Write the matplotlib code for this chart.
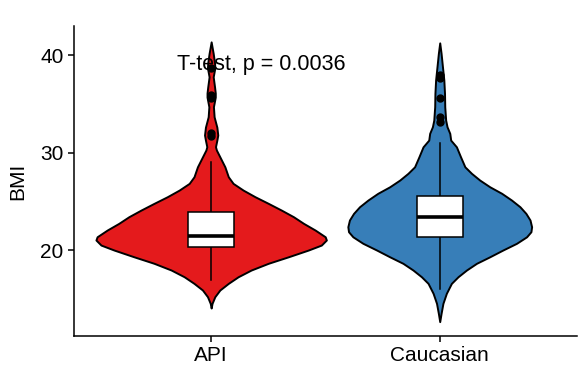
import matplotlib
matplotlib.use("Agg")
import matplotlib.pyplot as plt
import numpy as np

plt.rcParams['font.family'] = ['Liberation Sans', 'DejaVu Sans']

# ---- data ----
groups = ["API", "Caucasian"]
colors = ["#E41A1C", "#377EB8"]

# violin outline: BMI level and half width (in category-axis units)
api_profile_bmi = [14.05, 14.53, 15.21, 15.90, 16.58, 17.26, 17.95, 18.64, 19.31, 20.0,
                   20.51, 21.03, 21.36, 22.05, 22.74, 23.42, 24.10, 24.79, 25.47, 26.15,
                   26.84, 27.52, 28.54, 30.26, 30.6, 31.28, 31.8, 32.6, 33.67, 34.7,
                   35.69, 36.1, 36.72, 37.77, 38.67, 39.18, 40.17, 41.36]
api_profile_hw = [0.0, 0.004, 0.016, 0.038, 0.075, 0.118, 0.175, 0.250, 0.338, 0.425,
                  0.482, 0.504, 0.499, 0.455, 0.404, 0.360, 0.307, 0.250, 0.192, 0.140,
                  0.096, 0.075, 0.060, 0.023, 0.019, 0.025, 0.029, 0.025, 0.013, 0.010,
                  0.018, 0.018, 0.015, 0.009, 0.016, 0.015, 0.009, 0.0]

cau_profile_bmi = [12.65, 13.51, 14.53, 15.56, 16.58, 17.26, 17.95, 18.64, 19.31, 20.0,
                   20.69, 21.36, 21.88, 22.39, 23.08, 23.76, 24.44, 25.13, 25.82, 26.49,
                   27.18, 27.87, 28.54, 29.57, 30.59, 31.28, 31.97, 32.65, 33.33, 34.7,
                   36.07, 37.44, 38.8, 40.17, 41.26]
cau_profile_hw = [0.0, 0.006, 0.014, 0.029, 0.051, 0.080, 0.117, 0.161, 0.219, 0.276,
                  0.336, 0.380, 0.399, 0.402, 0.395, 0.377, 0.351, 0.314, 0.271, 0.219,
                  0.175, 0.139, 0.110, 0.091, 0.073, 0.048, 0.044, 0.032, 0.026, 0.022,
                  0.021, 0.018, 0.012, 0.006, 0.0]

# box plot statistics: whisker low, q1, median, q3, whisker high
api_box = [16.9, 20.3, 21.45, 23.93, 29.06]
cau_box = [16.0, 21.37, 23.42, 25.54, 30.94]

api_outliers = [38.7, 35.9, 35.6, 32.0, 31.7]
cau_outliers = [38.0, 37.6, 35.6, 33.6, 33.1]

annotation = "T-test, p = 0.0036"
y_ticks = [20, 30, 40]

profiles = [(api_profile_bmi, api_profile_hw), (cau_profile_bmi, cau_profile_hw)]
boxes = [api_box, cau_box]
outliers = [api_outliers, cau_outliers]

# ---- figure ----
fig = plt.figure(figsize=(5.8, 3.83), dpi=100)
ax = fig.add_axes([0.1276, 0.1227, 0.867, 0.809])

box_w = 0.2
for i, g in enumerate(groups):
    pos = i + 1
    yb, hw = np.array(profiles[i][0]), np.array(profiles[i][1])
    ax.fill_betweenx(yb, pos - hw, pos + hw, facecolor=colors[i],
                     edgecolor="black", linewidth=1.4, zorder=2)
    lo, q1, med, q3, hi = boxes[i]
    ax.plot([pos, pos], [lo, q1], color="black", lw=1.1, zorder=3)
    ax.plot([pos, pos], [q3, hi], color="black", lw=1.1, zorder=3)
    ax.add_patch(plt.Rectangle((pos - box_w / 2, q1), box_w, q3 - q1,
                               facecolor="white", edgecolor="black", lw=1.1, zorder=4))
    ax.plot([pos - box_w / 2, pos + box_w / 2], [med, med], color="black",
            lw=2.6, solid_capstyle="butt", zorder=5)
    ax.plot([pos] * len(outliers[i]), outliers[i], "o", color="black",
            markersize=5, zorder=6)

ax.text(0.852, 38.46, annotation, ha="left", va="baseline", fontsize=15.5, zorder=7)

ax.set_xlim(0.4, 2.6)
ax.set_ylim(11.18, 42.97)
ax.set_xticks([1, 2])
ax.set_xticklabels(groups)
ax.set_yticks(y_ticks)
ax.set_ylabel("BMI", fontsize=15, labelpad=9)
ax.tick_params(axis="both", labelsize=15, length=4.5, width=1.1, color="black",
               labelcolor="black", pad=3)
for s in ["top", "right"]:
    ax.spines[s].set_visible(False)
for s in ["left", "bottom"]:
    ax.spines[s].set_linewidth(1.1)
    ax.spines[s].set_color("black")

fig.savefig("out.png", dpi=100)
